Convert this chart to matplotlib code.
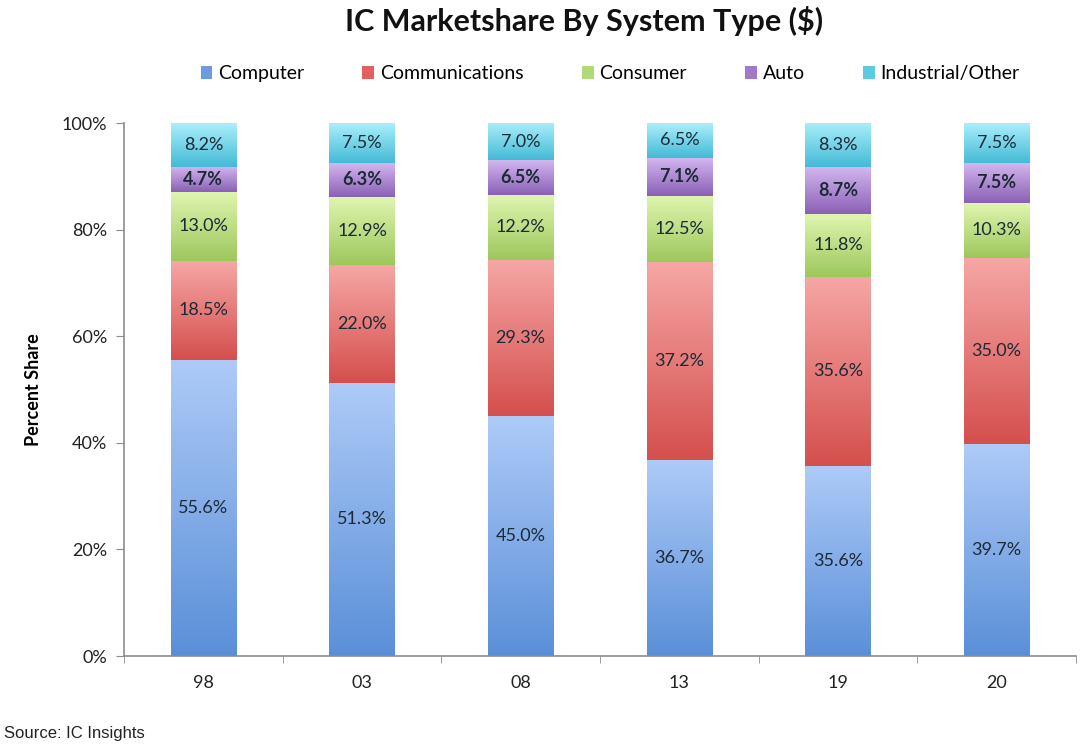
import matplotlib
matplotlib.use("Agg")
import matplotlib.pyplot as plt
import numpy as np
from matplotlib.colors import LinearSegmentedColormap
from matplotlib.patches import Patch

plt.rcParams["font.family"] = ["Lato", "DejaVu Sans"]

years = ["98", "03", "08", "13", "19", "20"]
series = ["Computer", "Communications", "Consumer", "Auto", "Industrial/Other"]
computer = [55.6, 51.3, 45.0, 36.7, 35.6, 39.7]
communications = [18.5, 22.0, 29.3, 37.2, 35.6, 35.0]
consumer = [13.0, 12.9, 12.2, 12.5, 11.8, 10.3]
auto = [4.7, 6.3, 6.5, 7.1, 8.7, 7.5]
industrial = [8.2, 7.5, 7.0, 6.5, 8.3, 7.5]

# (top, bottom) gradient colours per series
grad = {
    "Computer": ("#aecbf8", "#5a8fd8"),
    "Communications": ("#f6a7a5", "#d44f4d"),
    "Consumer": ("#e0f6b0", "#9dc75c"),
    "Auto": ("#d3b6ef", "#8a60b5"),
    "Industrial/Other": ("#aaeffb", "#44bad6"),
}
legend_col = {
    "Computer": "#6b9be0",
    "Communications": "#e0625f",
    "Consumer": "#b2d977",
    "Auto": "#a07ac8",
    "Industrial/Other": "#5ccbe2",
}

text_col = "#1c2a36"
axis_col = "#8c8c8c"

fig = plt.figure(figsize=(10.8, 7.46), dpi=100)
ax = fig.add_axes([0.1148, 0.1206, 0.8815, 0.7145])

x = np.arange(len(years))
width = 0.41
bottom = np.zeros(len(years))
values = [computer, communications, consumer, auto, industrial]
grad_img = np.linspace(0, 1, 256).reshape(-1, 1)

for name, vals in zip(series, values):
    vals = np.array(vals)
    bars = ax.bar(x, vals, width, bottom=bottom, facecolor="none",
                  edgecolor="none", zorder=2)
    cmap = LinearSegmentedColormap.from_list(name, [grad[name][1], grad[name][0]])
    for b in bars:
        x0, y0 = b.get_x(), b.get_y()
        im = ax.imshow(grad_img, cmap=cmap, aspect="auto", origin="lower",
                       extent=[x0, x0 + b.get_width(), y0, y0 + b.get_height()],
                       zorder=1)
        im.set_clip_path(b)
    for xi, v, bt in zip(x, vals, bottom):
        ax.text(xi, bt + v / 2, f"{v:.1f}%", ha="center", va="center",
                fontsize=13, color=text_col,
                fontweight="bold" if name == "Auto" else "normal", zorder=3)
    bottom = bottom + vals

ax.set_xlim(-0.5, 5.5)
ax.set_ylim(0, 100)
ax.set_yticks(np.arange(0, 101, 20))
ax.set_yticklabels([f"{v}%" for v in range(0, 101, 20)])
ax.set_xticks(x)
ax.set_xticklabels(years)
ax.set_xticks(np.arange(-0.5, 5.6, 1), minor=True)
ax.tick_params(axis="x", which="major", length=0, pad=14, labelsize=13, labelcolor="#222222")
ax.tick_params(axis="x", which="minor", length=5, color=axis_col, direction="out")
ax.tick_params(axis="y", length=6, color=axis_col, labelsize=13, labelcolor="#222222", pad=6)
for s in ["top", "right"]:
    ax.spines[s].set_visible(False)
for s in ["left", "bottom"]:
    ax.spines[s].set_color(axis_col)
    ax.spines[s].set_linewidth(1.2)
ax.set_ylabel("Percent Share", fontsize=13, fontweight="bold", labelpad=14)

fig.text(0.541, 0.972, "IC Marketshare By System Type ($)", ha="center", va="center",
         fontsize=22, fontweight="bold", color="#111111")

handles = [Patch(facecolor=legend_col[n], edgecolor="none") for n in series]
fig.legend(handles, series, loc="center", bbox_to_anchor=(0.565, 0.901), ncol=5,
           frameon=False, fontsize=14, handlelength=0.6, handleheight=0.6,
           handletextpad=0.3, columnspacing=3.0)

fig.text(0.004, 0.017, "Source: IC Insights", ha="left", va="center",
         fontsize=12, family=["Liberation Sans", "DejaVu Sans"], color="#222222")

fig.savefig("out.png", dpi=100)
